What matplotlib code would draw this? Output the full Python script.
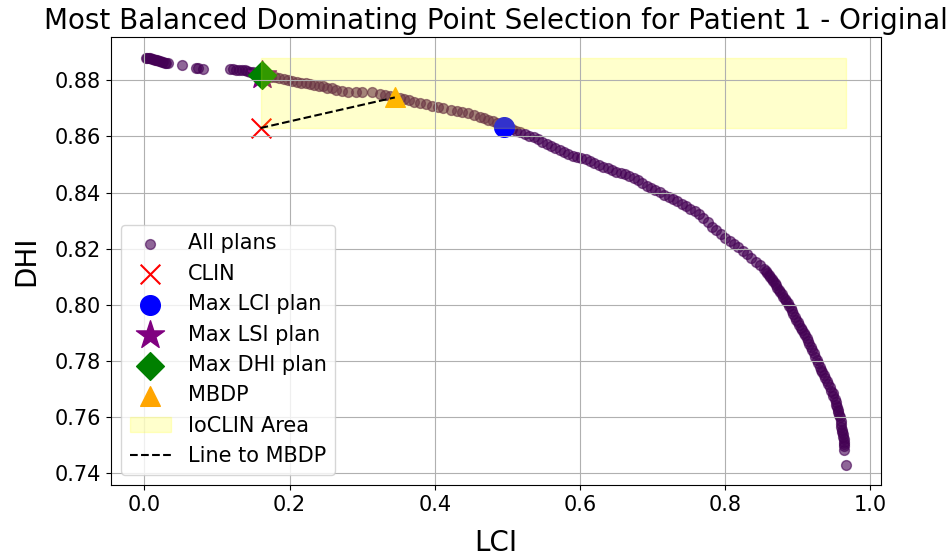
import matplotlib.pyplot as plt
from matplotlib.patches import Rectangle

# LCI / DHI of every candidate plan
lci = [0.002, 0.004, 0.006, 0.008, 0.010, 0.012, 0.014, 0.016, 0.018, 0.020,
       0.022, 0.024, 0.026, 0.028, 0.030, 0.032,
       0.052, 0.071, 0.074, 0.081,
       0.118, 0.122, 0.126, 0.130, 0.134, 0.138, 0.142, 0.146, 0.150, 0.154,
       0.158, 0.162, 0.165,
       0.170, 0.175, 0.180, 0.186, 0.192, 0.198, 0.204, 0.210, 0.216, 0.222,
       0.228, 0.234, 0.240, 0.246, 0.252, 0.258, 0.264, 0.272, 0.280, 0.292,
       0.300,
       0.314, 0.324, 0.332, 0.338, 0.352, 0.358, 0.364, 0.372, 0.380, 0.388,
       0.396, 0.404, 0.412, 0.422, 0.430, 0.438, 0.446, 0.454, 0.462, 0.468,
       0.474, 0.480, 0.486, 0.492, 0.496,
       0.500, 0.506, 0.512, 0.518, 0.524, 0.530, 0.536, 0.542, 0.548, 0.554,
       0.560, 0.566, 0.572, 0.578, 0.584, 0.590, 0.596, 0.602, 0.608, 0.614,
       0.620, 0.626, 0.632, 0.638, 0.644, 0.650, 0.656, 0.662, 0.668, 0.674,
       0.680, 0.686, 0.692, 0.698, 0.704, 0.710, 0.716, 0.722, 0.728, 0.734,
       0.740, 0.746, 0.752, 0.758, 0.764, 0.770, 0.776, 0.782, 0.788, 0.794,
       0.800, 0.806, 0.812, 0.818, 0.824, 0.830, 0.836, 0.842, 0.848, 0.854,
       0.856, 0.858, 0.860, 0.862, 0.864, 0.866, 0.868, 0.870, 0.872, 0.874,
       0.876, 0.878, 0.880, 0.882, 0.884, 0.886, 0.888, 0.890, 0.892, 0.894,
       0.896, 0.898, 0.900, 0.902, 0.904, 0.906, 0.908, 0.910, 0.912, 0.914,
       0.916, 0.918, 0.920, 0.922, 0.924, 0.926, 0.928, 0.930, 0.932, 0.934,
       0.936, 0.938, 0.940, 0.942, 0.944, 0.946, 0.948, 0.949, 0.951, 0.952,
       0.953, 0.954, 0.955, 0.956, 0.957, 0.958, 0.959, 0.960, 0.960, 0.961,
       0.961, 0.962, 0.962, 0.963, 0.963, 0.964, 0.964, 0.964, 0.966]
dhi = [0.8881, 0.8880, 0.8879, 0.8878, 0.8877, 0.8876, 0.8874, 0.8873, 0.8871, 0.8869,
       0.8868, 0.8866, 0.8865, 0.8863, 0.8861, 0.8860,
       0.8854, 0.8845, 0.8844, 0.8839,
       0.8840, 0.8839, 0.8838, 0.8837, 0.8836, 0.8835, 0.8833, 0.8831, 0.8829, 0.8827,
       0.8825, 0.8821, 0.8818,
       0.8816, 0.8813, 0.8811, 0.8808, 0.8805, 0.8801, 0.8798, 0.8795, 0.8792, 0.8789,
       0.8786, 0.8783, 0.8781, 0.8778, 0.8774, 0.8771, 0.8767, 0.8763, 0.8760, 0.8758,
       0.8758,
       0.8757, 0.8751, 0.8748, 0.8745, 0.8737, 0.8733, 0.8729, 0.8724, 0.8719, 0.8714,
       0.8710, 0.8706, 0.8702, 0.8695, 0.8690, 0.8687, 0.8682, 0.8678, 0.8671, 0.8666,
       0.8660, 0.8654, 0.8648, 0.8640, 0.8635,
       0.8629, 0.8625, 0.8621, 0.8615, 0.8609, 0.8603, 0.8597, 0.8590, 0.8580, 0.8572,
       0.8566, 0.8558, 0.8550, 0.8543, 0.8538, 0.8532, 0.8528, 0.8524, 0.8518, 0.8511,
       0.8505, 0.8499, 0.8492, 0.8486, 0.8480, 0.8475, 0.8470, 0.8465, 0.8459, 0.8452,
       0.8445, 0.8436, 0.8425, 0.8416, 0.8409, 0.8401, 0.8393, 0.8385, 0.8378, 0.8370,
       0.8361, 0.8352, 0.8343, 0.8334, 0.8323, 0.8310, 0.8294, 0.8279, 0.8266, 0.8253,
       0.8240, 0.8229, 0.8218, 0.8206, 0.8193, 0.8180, 0.8168, 0.8154, 0.8142, 0.8128,
       0.8121, 0.8114, 0.8107, 0.8100, 0.8093, 0.8086, 0.8078, 0.8070, 0.8062, 0.8054,
       0.8046, 0.8038, 0.8030, 0.8022, 0.8014, 0.8006, 0.7997, 0.7988, 0.7978, 0.7968,
       0.7958, 0.7948, 0.7938, 0.7928, 0.7919, 0.7910, 0.7901, 0.7893, 0.7883, 0.7872,
       0.7861, 0.7850, 0.7839, 0.7828, 0.7816, 0.7805, 0.7792, 0.7780, 0.7770, 0.7760,
       0.7750, 0.7740, 0.7729, 0.7718, 0.7707, 0.7695, 0.7685, 0.7675, 0.7665, 0.7655,
       0.7645, 0.7635, 0.7627, 0.7618, 0.7609, 0.7600, 0.7585, 0.7575, 0.7565, 0.7556,
       0.7548, 0.7539, 0.7530, 0.7521, 0.7512, 0.7504, 0.7496, 0.7482, 0.7431]

# highlighted plans (LCI, DHI)
clin = (0.160, 0.8630)
max_lci_plan = (0.496, 0.8635)
max_lsi_plan = (0.162, 0.8820)
max_dhi_plan = (0.1625, 0.8818)
mbdp = (0.345, 0.8739)

fig, ax = plt.subplots(figsize=(9.47, 5.55), dpi=100)
fig.subplots_adjust(left=0.117, right=0.930, top=0.933, bottom=0.126)

ax.scatter(lci, dhi, color='#440154', alpha=0.6, s=50, label='All plans')
ax.scatter(clin[0], clin[1], color='red', marker='x', s=200, label='CLIN')
ax.scatter(max_lci_plan[0], max_lci_plan[1], color='blue', marker='o', s=200, label='Max LCI plan')
ax.scatter(max_lsi_plan[0], max_lsi_plan[1], color='purple', marker='*', s=450, label='Max LSI plan')
ax.scatter(max_dhi_plan[0], max_dhi_plan[1], color='green', marker='D', s=200, label='Max DHI plan')
ax.scatter(mbdp[0], mbdp[1], color='orange', marker='^', s=200, label='MBDP')

# area that improves on CLIN in both metrics
area = Rectangle((clin[0], clin[1]), max(lci) - clin[0], max(dhi) - clin[1],
                 color='yellow', alpha=0.2, label='IoCLIN Area')
ax.add_patch(area)
ax.plot([clin[0], mbdp[0]], [clin[1], mbdp[1]], 'k--', label='Line to MBDP')

ax.set_title('Most Balanced Dominating Point Selection for Patient 1 - Original', fontsize=20)
ax.set_xlabel('LCI', fontsize=20, labelpad=10)
ax.set_ylabel('DHI', fontsize=20, labelpad=10)
ax.tick_params(labelsize=15)
ax.grid(True)
ax.legend(loc='lower left', fontsize=15)

plt.savefig('out.png')
